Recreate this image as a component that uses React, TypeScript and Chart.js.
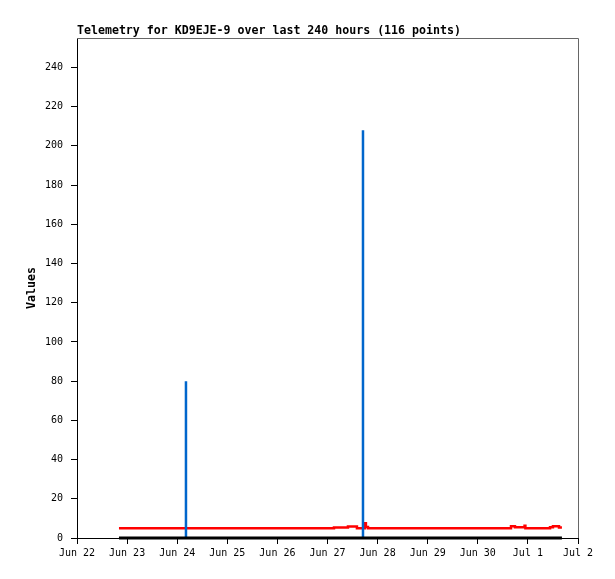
import React, { useEffect, useRef } from 'react';
import { Chart, registerables } from 'chart.js';

Chart.register(...registerables);

const titleText = 'Telemetry for KD9EJE-9 over last 240 hours (116 points)';
const yTitle = 'Values';
const xTickLabels = ['Jun 22', 'Jun 23', 'Jun 24', 'Jun 25', 'Jun 26', 'Jun 27', 'Jun 28', 'Jun 29', 'Jun 30', 'Jul 1', 'Jul 2'];

// hours since Jun 22 00:00
const redHours = [20.1, 123.1, 129.8, 134.1, 137.9, 138.4, 139.4, 207.9, 209.8, 214.4, 214.8, 226.6, 228.0, 230.9, 232.3];
const redValues = [5, 5.4, 5.9, 5, 7.5, 5.6, 5, 6, 5.5, 6.2, 5, 5.5, 6, 5.3, 5.3];

const blackHours = [20.1, 232.3];
const blackValues = [0, 0];

const blueHours = [52.2, 137.0];
const blueValues = [80, 208];

const FONT = '"DejaVu Sans Mono", monospace';

const framePlugin = {
  id: 'frame',
  afterDraw(chart: any) {
    const { ctx, chartArea: a } = chart;
    ctx.save();
    ctx.strokeStyle = '#666666';
    ctx.lineWidth = 1;
    ctx.beginPath();
    ctx.moveTo(a.left, Math.floor(a.top) + 0.5);
    ctx.lineTo(Math.floor(a.right) + 0.5, Math.floor(a.top) + 0.5);
    ctx.lineTo(Math.floor(a.right) + 0.5, a.bottom);
    ctx.stroke();
    ctx.font = `bold 11.6px ${FONT}`;
    ctx.fillStyle = '#000';
    ctx.textBaseline = 'middle';
    ctx.textAlign = 'left';
    ctx.fillText(titleText, a.left, 31);
    ctx.restore();
  },
};

export default function App() {
  const ref = useRef<HTMLCanvasElement>(null);
  useEffect(() => {
    if (!ref.current) return;
    const blueData: any[] = [];
    blueHours.forEach((h, i) => {
      blueData.push({ x: h, y: 0 }, { x: h, y: blueValues[i] }, { x: h, y: null });
    });
    const chart = new Chart(ref.current, {
      type: 'line',
      data: {
        datasets: [
          {
            label: 'zero',
            data: blackHours.map((h, i) => ({ x: h, y: blackValues[i] })),
            borderColor: '#000000',
            borderWidth: 3,
            pointRadius: 0,
            order: 0,
            clip: false as any,
          },
          {
            label: 'blue',
            data: blueData,
            borderColor: '#0066cc',
            borderWidth: 2.5,
            pointRadius: 0,
            spanGaps: false,
            order: 1,
            clip: false as any,
          },
          {
            label: 'red',
            data: redHours.map((h, i) => ({ x: h, y: redValues[i] })),
            borderColor: '#ff0000',
            borderWidth: 2.5,
            pointRadius: 0,
            stepped: 'before',
            order: 2,
            clip: false as any,
          },
        ],
      },
      options: {
        animation: false,
        responsive: false,
        devicePixelRatio: 1,
        layout: { padding: { top: 38, right: 37, left: 0, bottom: 0 } },
        plugins: { legend: { display: false }, tooltip: { enabled: false }, title: { display: false } },
        scales: {
          x: {
            type: 'linear',
            min: 0,
            max: 240,
            afterFit: (s: any) => { s.height = 41; },
            border: { color: '#000', width: 1 },
            grid: { drawOnChartArea: false, color: '#000', tickLength: 6 },
            ticks: {
              stepSize: 24,
              color: '#000',
              padding: 3,
              maxRotation: 0,
              autoSkip: false,
              font: { family: FONT, size: 10 },
              callback: (v: any) => xTickLabels[Math.round(Number(v) / 24)] ?? '',
            },
          },
          y: {
            type: 'linear',
            min: 0,
            max: 255,
            afterFit: (s: any) => { s.width = 77; },
            border: { color: '#000', width: 1 },
            grid: { drawOnChartArea: false, color: '#000', tickLength: 6 },
            title: {
              display: true,
              text: yTitle,
              color: '#000',
              font: { family: FONT, size: 11.6, weight: 'bold' },
              padding: { top: 25, bottom: 0 },
            },
            ticks: {
              stepSize: 20,
              includeBounds: false,
              color: '#000',
              padding: 8,
              font: { family: FONT, size: 10 },
            },
          },
        },
      },
      plugins: [framePlugin],
    });
    return () => chart.destroy();
  }, []);
  return (
    <div style={{ position: 'fixed', left: 0, top: 0, width: 615, height: 579, background: '#fff' }}>
      <canvas ref={ref} width={615} height={579} style={{ display: 'block' }} />
    </div>
  );
}
